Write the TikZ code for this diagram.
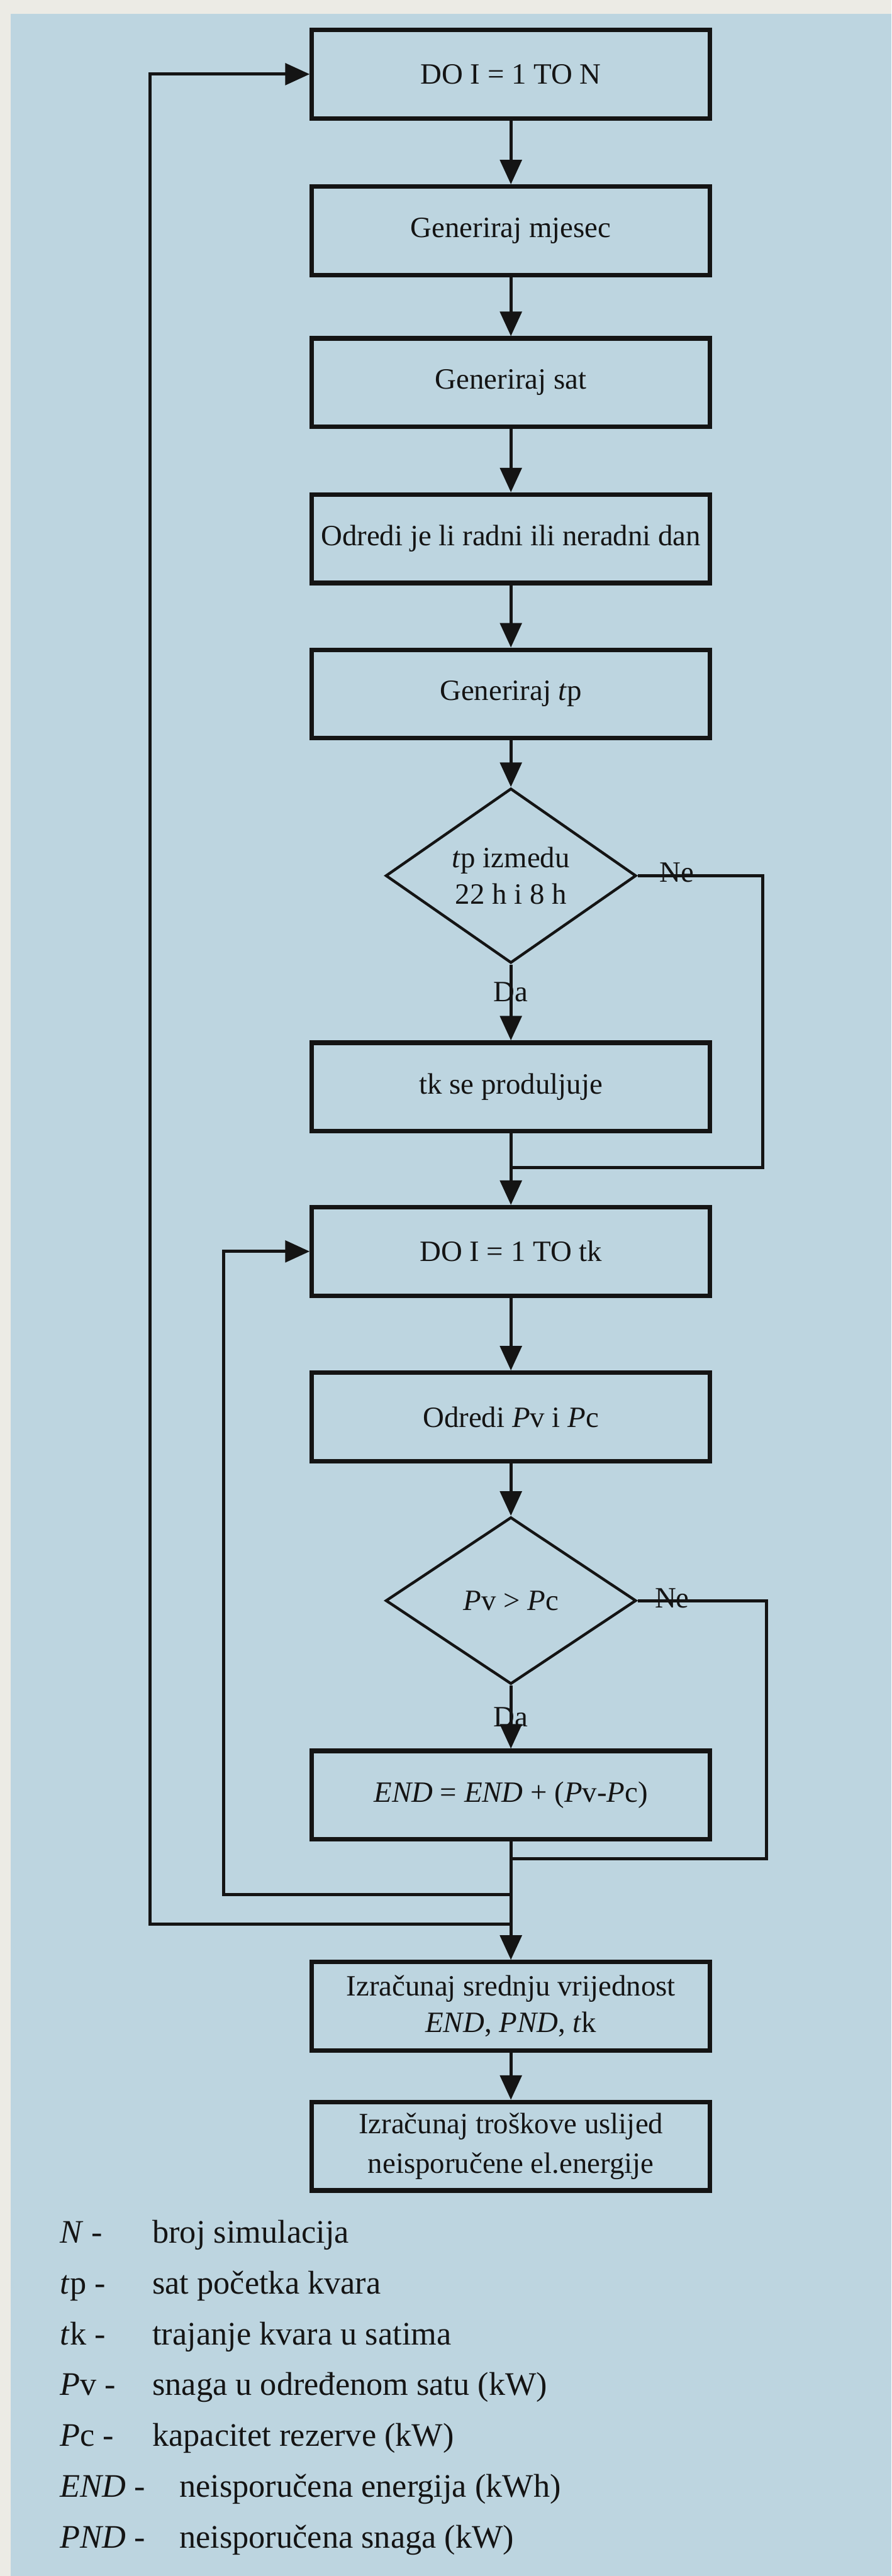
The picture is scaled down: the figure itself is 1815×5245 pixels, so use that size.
\documentclass[tikz,border=0pt]{standalone}
\usepackage{fontspec}
\setmainfont{Liberation Serif}
\usetikzlibrary{shapes.geometric,arrows.meta}
\definecolor{bgblue}{RGB}{189,213,224}
\definecolor{paper}{RGB}{236,235,229}
\definecolor{ink}{RGB}{20,20,20}
\tikzset{
  procbox/.style={draw=ink, line width=4.6pt, rectangle, minimum width=405pt, minimum height=90pt,
    inner sep=0pt, align=center, font=\fontsize{30}{37}\selectfont, text=ink},
  decbox/.style={draw=ink, line width=2.8pt, diamond, minimum width=255pt, minimum height=170pt,
    inner sep=0pt, align=center, font=\fontsize{30}{37}\selectfont, text=ink},
  conn/.style={draw=ink, line width=3.2pt},
  arr/.style={conn, -{Triangle[length=25pt,width=22pt]}},
  lbl/.style={font=\fontsize{30}{36}\selectfont, text=ink, inner sep=0pt},
  legsym/.style={anchor=base west, font=\fontsize{33.5}{40}\selectfont, text=ink, inner sep=0pt},
}
\begin{document}
\begin{tikzpicture}[x=0.5pt,y=-0.5pt]
\useasboundingbox (0,0) rectangle (1815,5245);
\fill[paper] (0,0) rectangle (1815,5245);
\fill[bgblue] (22,28) rectangle (1815,5245);

% boxes
\node[procbox] (b1) at (1040,151) {DO I = 1 TO N};
\node[procbox] (b2) at (1040,470) {Generiraj mjesec};
\node[procbox] (b3) at (1040,779) {Generiraj sat};
\node[procbox] (b4) at (1040,1097) {Odredi je li radni ili neradni dan};
\node[procbox] (b5) at (1040,1413) {Generiraj \textit{t}p};
\node[decbox] (d1) at (1040,1783) {\textit{t}p izmedu\\22 h i 8 h};
\node[procbox] (b6) at (1040,2213) {tk se produljuje};
\node[procbox] (b7) at (1040,2548) {DO I = 1 TO tk};
\node[procbox] (b8) at (1040,2885) {Odredi \textit{P}v i \textit{P}c};
\node[decbox] (d2) at (1040,3259) {\textit{P}v > \textit{P}c};
\node[procbox] (b9) at (1040,3655) {\textit{END} = \textit{END} + (\textit{P}v-\textit{P}c)};
\node[procbox] (b10) at (1040,4085) {Izračunaj srednju vrijednost\\\textit{END}, \textit{PND}, \textit{t}k};
\node[procbox, font=\fontsize{30}{40}\selectfont] (b11) at (1040,4370) {Izračunaj troškove uslijed\\neisporučene el.energije};

% junction coordinates
\coordinate (j1) at (1040,2377);
\coordinate (j2) at (1040,3785);
\coordinate (j3) at (1040,3857);
\coordinate (j4) at (1040,3918);
\coordinate (ne1) at (1553,1783);
\coordinate (ne2) at (1560,3259);
\coordinate (innerx) at (455,0);
\coordinate (outerx) at (305,0);

% connectors
\draw[arr] (b1) -- (b2);
\draw[arr] (b2) -- (b3);
\draw[arr] (b3) -- (b4);
\draw[arr] (b4) -- (b5);
\draw[arr] (b5) -- (d1);
\draw[arr] (d1) -- (b6);
\draw[conn] (d1.east) -- (ne1) |- (j1);
\draw[arr] (b6) -- (b7);
\draw[arr] (b7) -- (b8);
\draw[arr] (b8) -- (d2);
\draw[arr] (d2) -- (b9);
\draw[conn] (d2.east) -- (ne2) |- (j2);
\draw[arr] (b9) -- (b10);
\draw[arr] (b10) -- (b11);
\draw[arr] (j3) -- (j3 -| innerx) |- (b7.west);
\draw[arr] (j4) -- (j4 -| outerx) |- (b1.west);

% branch labels
\node[lbl] (da1) at (1040,2020) {Da};
\node[lbl] (no1) at (1378,1776) {Ne};
\node[lbl] (da2) at (1040,3496) {Da};
\node[lbl] (no2) at (1368,3254) {Ne};

% legend
\node[legsym] (s1) at (122,4567) {\textit{N} -};
\node[legsym] (t1) at (310,4567) {broj simulacija};
\node[legsym] (s2) at (122,4670) {\textit{t}p -};
\node[legsym] (t2) at (310,4670) {sat početka kvara};
\node[legsym] (s3) at (122,4774) {\textit{t}k -};
\node[legsym] (t3) at (310,4774) {trajanje kvara u satima};
\node[legsym] (s4) at (122,4877) {\textit{P}v -};
\node[legsym] (t4) at (310,4877) {snaga u određenom satu (kW)};
\node[legsym] (s5) at (122,4981) {\textit{P}c -};
\node[legsym] (t5) at (310,4981) {kapacitet rezerve (kW)};
\node[legsym] (s6) at (122,5084) {\textit{END} -};
\node[legsym] (t6) at (365,5084) {neisporučena energija (kWh)};
\node[legsym] (s7) at (122,5188) {\textit{PND} -};
\node[legsym] (t7) at (365,5188) {neisporučena snaga (kW)};
\end{tikzpicture}
\end{document}
